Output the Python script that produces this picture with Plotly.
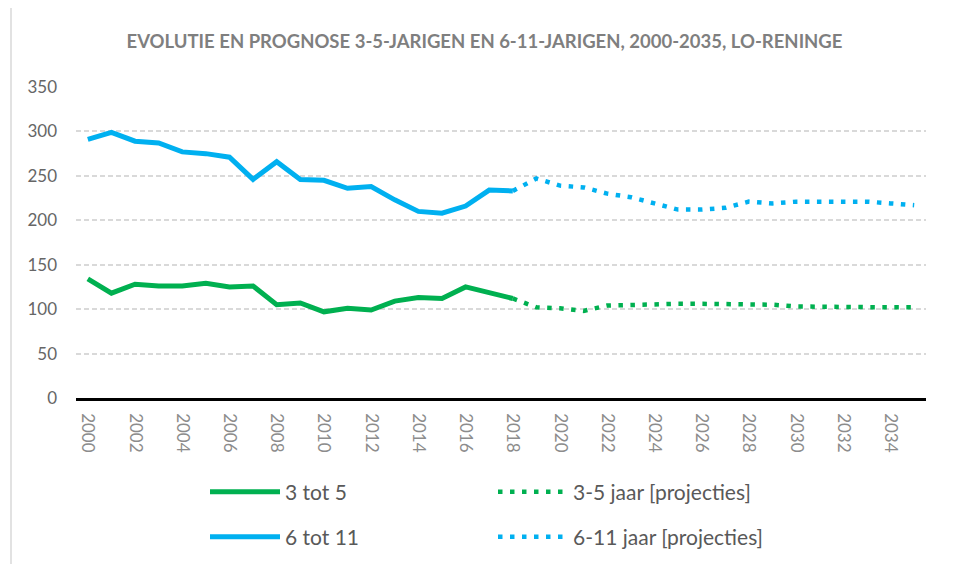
import plotly.graph_objects as go

years_actual = list(range(2000, 2019))
years_proj = list(range(2018, 2036))

green_actual = [134, 118, 128, 126, 126, 129, 125, 126, 105, 107, 97, 101, 99, 109, 113, 112, 125, 118, 112]
blue_actual = [291, 299, 289, 287, 277, 275, 271, 246, 266, 246, 245, 236, 238, 223, 210, 208, 216, 234, 233]
green_proj = [112, 102, 101, 98, 104, 105, 106, 106, 106, 106, 106, 105, 103, 102.5, 102.5, 102, 102, 102]
blue_proj = [233, 247, 239, 237, 230, 226, 219, 212, 212, 214, 221, 219, 221, 221, 221, 221, 219, 217]

tick_years = list(range(2000, 2035, 2))

GREEN = "#00b050"
BLUE = "#00b0f0"
FONT = "Lato"

# The page body has an 8px default margin; the figure is sized to fill the rest of the window.
OFF = 8
W, H = 959 - OFF, 564 - OFF
L, T = 76 - OFF, 87 - OFF
PW, PH = 850, 311

fig = go.Figure()
fig.add_trace(go.Scatter(x=years_actual, y=green_actual, mode="lines", name="3 tot 5",
                         line=dict(color=GREEN, width=5), legend="legend"))
fig.add_trace(go.Scatter(x=years_proj, y=green_proj, mode="lines", name="3-5 jaar [projecties]",
                         line=dict(color=GREEN, width=4.5, dash="4.5px,7.5px"), legend="legend"))
fig.add_trace(go.Scatter(x=years_actual, y=blue_actual, mode="lines", name="6 tot 11",
                         line=dict(color=BLUE, width=5), legend="legend2"))
fig.add_trace(go.Scatter(x=years_proj, y=blue_proj, mode="lines", name="6-11 jaar [projecties]",
                         line=dict(color=BLUE, width=4.5, dash="4.5px,7.5px"), legend="legend2"))

legend_common = dict(orientation="h", xanchor="left", yanchor="middle",
                     xref="container", yref="container",
                     font=dict(family=FONT, size=21, color="#595959"),
                     entrywidth=203, entrywidthmode="pixels", itemwidth=70,
                     bgcolor="rgba(0,0,0,0)")

fig.update_layout(
    width=W, height=H, autosize=False,
    margin=dict(l=L, r=W - L - PW, t=T, b=H - T - PH),
    paper_bgcolor="white", plot_bgcolor="white",
    title=dict(text="<b>EVOLUTIE EN PROGNOSE 3-5-JARIGEN EN 6-11-JARIGEN, 2000-2035, LO-RENINGE</b>",
               x=(484.5 - OFF) / W, xanchor="center", y=1 - (42 - OFF) / H, yanchor="middle",
               font=dict(family=FONT, size=18.5, color="#7f7f7f")),
    xaxis=dict(range=[1999.5, 2035.5], tickvals=tick_years, ticktext=[str(y) for y in tick_years],
               tickangle=90, showgrid=False, zeroline=False, showline=True,
               linecolor="#000000", linewidth=2.5, ticks="", ticklen=0, ticklabelstandoff=9,
               tickfont=dict(family=FONT, size=17, color="#8c8c8c")),
    yaxis=dict(range=[0, 350], tickvals=[0, 50, 100, 150, 200, 250, 300, 350],
               showgrid=True, gridcolor="#d9d9d9", gridwidth=1.5, griddash="5px,3px",
               zeroline=False, showline=False, ticks="", ticklabelstandoff=18,
               tickfont=dict(family=FONT, size=17, color="#666666")),
    legend=dict(x=(205 - OFF) / W, y=1 - (492 - OFF) / H, **legend_common),
    legend2=dict(x=(205 - OFF) / W, y=1 - (537 - OFF) / H, **legend_common),
    shapes=[dict(type="rect", xref="paper", yref="paper",
                 x0=(11 - 76) / PW, x1=(957 - 76) / PW,
                 y0=(398 - 600) / PH, y1=(398 - 7) / PH,
                 line=dict(color="#d9d9d9", width=1.5), fillcolor="rgba(0,0,0,0)", layer="below")],
)

fig.write_html("out.html")
